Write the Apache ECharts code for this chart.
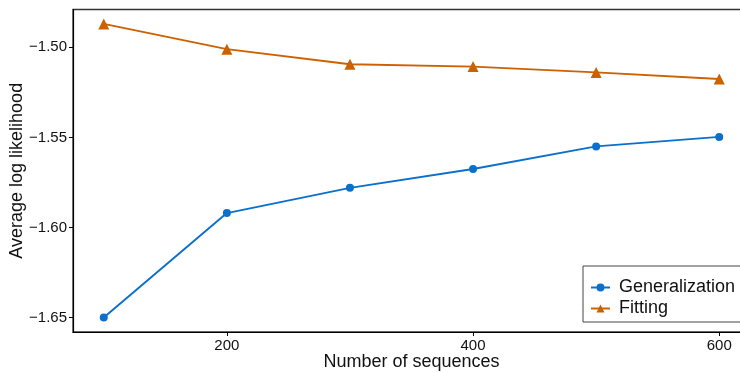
<!DOCTYPE html>
<html>
<head>
<meta charset="utf-8">
<script src="https://cdn.jsdelivr.net/npm/echarts@6/dist/echarts.min.js"></script>
<style>
  html, body { margin: 0; padding: 0; background: #fff; }
  #chart { width: 740px; height: 373px; }
</style>
</head>
<body>
<div id="chart"></div>
<script>
// Number of training sequences
const sequenceCounts = [100, 200, 300, 400, 500, 600];
// Average log likelihood on held-out data
const generalization = [-1.650, -1.592, -1.578, -1.5675, -1.555, -1.5497];
// Average log likelihood on training data
const fitting = [-1.487, -1.501, -1.5094, -1.5107, -1.5139, -1.5176];

const xTicks = [200, 400, 600];
const yTicks = [-1.65, -1.60, -1.55, -1.50];

const xTitle = 'Number of sequences';
const yTitle = 'Average log likelihood';

const FONT = '"Liberation Sans", Arial, Helvetica, sans-serif';
const BLUE = '#0a70cc';
const ORANGE = '#cc6100';

const GRID = { left: 73, top: 9.5, right: -10, bottom: 41 };
const W = 740, H = 373;

const pairs = (ys) => sequenceCounts.map((x, i) => [x, ys[i]]);

const chart = echarts.init(document.getElementById('chart'), null, { renderer: 'canvas' });

// Axis titles centred on the plotting area
const plotCx = (GRID.left + (W - GRID.right)) / 2;
const plotCy = (GRID.top + (H - GRID.bottom)) / 2;

chart.setOption({
  animation: false,
  backgroundColor: '#fff',
  textStyle: { fontFamily: FONT },
  grid: Object.assign({
    containLabel: false,
    outerBoundsMode: 'none',
    show: true, borderColor: '#333', borderWidth: 1.3, backgroundColor: 'transparent'
  }, GRID),
  graphic: [
    {
      type: 'text', x: plotCx, y: H - GRID.bottom + 30.5,
      style: { text: xTitle, font: '18px ' + FONT, fill: '#111', align: 'center', verticalAlign: 'middle' }
    },
    {
      type: 'text', x: 17, y: plotCy, rotation: Math.PI / 2,
      style: { text: yTitle, font: '18px ' + FONT, fill: '#111', align: 'center', verticalAlign: 'middle' }
    }
  ],
  xAxis: {
    type: 'value',
    min: 75, max: 625,
    axisLine: { show: true, lineStyle: { color: '#000', width: 1.2 } },
    axisTick: { show: true, length: 4, customValues: xTicks, lineStyle: { color: '#000' } },
    axisLabel: { customValues: xTicks, fontSize: 15, color: '#111', margin: 6, fontFamily: FONT },
    splitLine: { show: false }
  },
  yAxis: {
    type: 'value',
    min: -1.658, max: -1.479,
    axisLine: { show: true, lineStyle: { color: '#000', width: 1.2 } },
    axisTick: { show: true, length: 4, customValues: yTicks, lineStyle: { color: '#000' } },
    axisLabel: {
      customValues: yTicks, fontSize: 15, color: '#111', margin: 6, fontFamily: FONT,
      formatter: (v) => v.toFixed(2).replace('-', '\u2212')
    },
    splitLine: { show: false }
  },
  legend: {
    left: 583, top: 266,
    orient: 'vertical',
    backgroundColor: '#fff',
    borderColor: '#444', borderWidth: 1, borderRadius: 0,
    padding: [12.5, 12, 4.5, 7],
    itemGap: 3,
    itemWidth: 19, itemHeight: 10,
    textStyle: { fontSize: 18, color: '#111', fontFamily: FONT, padding: [0, 0, 0, 4] },
    data: ['Generalization', 'Fitting']
  },
  series: [
    {
      name: 'Generalization',
      type: 'line',
      data: pairs(generalization),
      symbol: 'circle', symbolSize: 8,
      lineStyle: { color: BLUE, width: 1.9 },
      itemStyle: { color: BLUE },
      z: 3
    },
    {
      name: 'Fitting',
      type: 'line',
      data: pairs(fitting),
      symbol: 'triangle', symbolSize: 11,
      lineStyle: { color: ORANGE, width: 1.9 },
      itemStyle: { color: ORANGE },
      z: 3
    }
  ]
});
</script>
</body>
</html>
